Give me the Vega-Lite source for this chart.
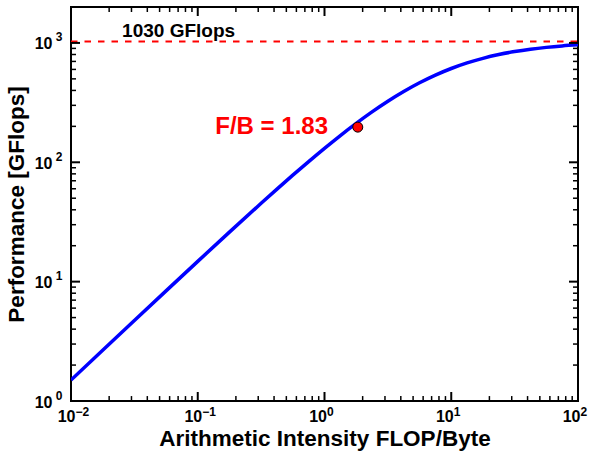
{
  "$schema": "https://vega.github.io/schema/vega-lite/v6.json",
  "width": 507,
  "height": 394,
  "autosize": {"type": "none"},
  "padding": {"left": 71, "top": 7, "right": 13, "bottom": 53},
  "background": "white",
  "config": {
    "view": {"stroke": "black", "strokeWidth": 2},
    "font": "Liberation Sans",
    "axis": {
      "domain": false,
      "grid": false,
      "ticks": false,
      "labelFont": "Liberation Sans",
      "labelFontWeight": "bold",
      "labelColor": "black",
      "titleFont": "Liberation Sans",
      "titleFontWeight": "bold",
      "titleColor": "black",
      "labelOverlap": false,
      "labelFlush": false
    }
  },
  "datasets": {
    "xmajor": [{"v": 0.1}, {"v": 1}, {"v": 10}],
    "xminor": [
      {"v": 0.02}, {"v": 0.03}, {"v": 0.04}, {"v": 0.05}, {"v": 0.06}, {"v": 0.07}, {"v": 0.08}, {"v": 0.09},
      {"v": 0.2}, {"v": 0.3}, {"v": 0.4}, {"v": 0.5}, {"v": 0.6}, {"v": 0.7}, {"v": 0.8}, {"v": 0.9},
      {"v": 2}, {"v": 3}, {"v": 4}, {"v": 5}, {"v": 6}, {"v": 7}, {"v": 8}, {"v": 9},
      {"v": 20}, {"v": 30}, {"v": 40}, {"v": 50}, {"v": 60}, {"v": 70}, {"v": 80}, {"v": 90}
    ],
    "ymajor": [{"v": 10}, {"v": 100}, {"v": 1000}],
    "yminor": [
      {"v": 2}, {"v": 3}, {"v": 4}, {"v": 5}, {"v": 6}, {"v": 7}, {"v": 8}, {"v": 9},
      {"v": 20}, {"v": 30}, {"v": 40}, {"v": 50}, {"v": 60}, {"v": 70}, {"v": 80}, {"v": 90},
      {"v": 200}, {"v": 300}, {"v": 400}, {"v": 500}, {"v": 600}, {"v": 700}, {"v": 800}, {"v": 900}
    ]
  },
  "resolve": {"axis": {"x": "independent", "y": "independent"}},
  "layer": [
    {
      "data": {"values": [
        {"ai": 0.01, "perf": 1.498},
        {"ai": 0.01778, "perf": 2.660},
        {"ai": 0.03162, "perf": 4.721},
        {"ai": 0.05623, "perf": 8.367},
        {"ai": 0.1, "perf": 14.79},
        {"ai": 0.1778, "perf": 26.00},
        {"ai": 0.3162, "perf": 45.34},
        {"ai": 0.4217, "perf": 59.59},
        {"ai": 0.5623, "perf": 77.97},
        {"ai": 0.75, "perf": 101.4},
        {"ai": 1, "perf": 130.9},
        {"ai": 1.334, "perf": 167.6},
        {"ai": 1.778, "perf": 211.9},
        {"ai": 2.371, "perf": 264.4},
        {"ai": 3.162, "perf": 324.8},
        {"ai": 4.217, "perf": 391.9},
        {"ai": 5.623, "perf": 463.7},
        {"ai": 7.499, "perf": 537.7},
        {"ai": 10, "perf": 610.7},
        {"ai": 13.34, "perf": 680.0},
        {"ai": 17.78, "perf": 743.0},
        {"ai": 23.71, "perf": 798.7},
        {"ai": 31.62, "perf": 846.2},
        {"ai": 42.17, "perf": 885.8},
        {"ai": 56.23, "perf": 917.9},
        {"ai": 74.99, "perf": 943.6},
        {"ai": 100, "perf": 963.8}
      ]},
      "mark": {"type": "line", "color": "#0000ff", "strokeWidth": 3.5, "interpolate": "monotone", "clip": true},
      "encoding": {
        "x": {
          "field": "ai", "type": "quantitative",
          "scale": {"type": "log", "domain": [0.01, 100], "nice": false},
          "axis": {
            "orient": "bottom",
            "values": [0.01, 0.1, 1, 10, 100],
            "labelExpr": "'10'",
            "labelFontSize": 16,
            "labelAlign": "right",
            "labelBaseline": "top",
            "labelPadding": 7,
            "labelOffset": {"condition": {"test": "datum.value < 0.5", "value": 4}, "value": 2},
            "title": "Arithmetic Intensity FLOP/Byte",
            "titleFontSize": 22.5,
            "titlePadding": 3
          }
        },
        "y": {
          "field": "perf", "type": "quantitative",
          "scale": {"type": "log", "domain": [1, 2000], "nice": false},
          "axis": {
            "orient": "left",
            "values": [1, 10, 100, 1000],
            "labelExpr": "'10'",
            "labelFontSize": 16,
            "labelAlign": "right",
            "labelBaseline": "middle",
            "labelPadding": 19,
            "labelOffset": 1,
            "title": "Performance [GFlops]",
            "titleFontSize": 22.5,
            "titlePadding": 6
          }
        }
      }
    },
    {
      "data": {"values": [{"x0": 0.01, "x1": 100, "perf": 1030}]},
      "mark": {"type": "rule", "color": "#ff0000", "strokeWidth": 2, "strokeDash": [6.5, 7]},
      "encoding": {
        "x": {"field": "x0", "type": "quantitative", "scale": {"type": "log", "domain": [0.01, 100], "nice": false}, "axis": null},
        "x2": {"field": "x1"},
        "y": {"field": "perf", "type": "quantitative", "scale": {"type": "log", "domain": [1, 2000], "nice": false}, "axis": null}
      }
    },
    {
      "data": {"name": "xmajor"},
      "mark": {"type": "rule", "color": "black", "strokeWidth": 2},
      "encoding": {
        "x": {"field": "v", "type": "quantitative", "scale": {"type": "log", "domain": [0.01, 100], "nice": false}, "axis": null},
        "y": {"datum": 1, "type": "quantitative", "scale": {"type": "log", "domain": [1, 2000], "nice": false}, "axis": null},
        "y2": {"datum": 1.19}
      }
    },
    {
      "data": {"name": "xminor"},
      "mark": {"type": "rule", "color": "black", "strokeWidth": 1.5},
      "encoding": {
        "x": {"field": "v", "type": "quantitative", "scale": {"type": "log", "domain": [0.01, 100], "nice": false}, "axis": null},
        "y": {"datum": 1, "type": "quantitative", "scale": {"type": "log", "domain": [1, 2000], "nice": false}, "axis": null},
        "y2": {"datum": 1.1}
      }
    },
    {
      "data": {"name": "xmajor"},
      "mark": {"type": "rule", "color": "black", "strokeWidth": 2},
      "encoding": {
        "x": {"field": "v", "type": "quantitative", "scale": {"type": "log", "domain": [0.01, 100], "nice": false}, "axis": null},
        "y": {"datum": 2000, "type": "quantitative", "scale": {"type": "log", "domain": [1, 2000], "nice": false}, "axis": null},
        "y2": {"datum": 1681}
      }
    },
    {
      "data": {"name": "xminor"},
      "mark": {"type": "rule", "color": "black", "strokeWidth": 1.5},
      "encoding": {
        "x": {"field": "v", "type": "quantitative", "scale": {"type": "log", "domain": [0.01, 100], "nice": false}, "axis": null},
        "y": {"datum": 2000, "type": "quantitative", "scale": {"type": "log", "domain": [1, 2000], "nice": false}, "axis": null},
        "y2": {"datum": 1817}
      }
    },
    {
      "data": {"name": "ymajor"},
      "mark": {"type": "rule", "color": "black", "strokeWidth": 2},
      "encoding": {
        "y": {"field": "v", "type": "quantitative", "scale": {"type": "log", "domain": [1, 2000], "nice": false}, "axis": null},
        "x": {"datum": 0.01, "type": "quantitative", "scale": {"type": "log", "domain": [0.01, 100], "nice": false}, "axis": null},
        "x2": {"datum": 0.01178}
      }
    },
    {
      "data": {"name": "yminor"},
      "mark": {"type": "rule", "color": "black", "strokeWidth": 1.5},
      "encoding": {
        "y": {"field": "v", "type": "quantitative", "scale": {"type": "log", "domain": [1, 2000], "nice": false}, "axis": null},
        "x": {"datum": 0.01, "type": "quantitative", "scale": {"type": "log", "domain": [0.01, 100], "nice": false}, "axis": null},
        "x2": {"datum": 0.01095}
      }
    },
    {
      "data": {"name": "ymajor"},
      "mark": {"type": "rule", "color": "black", "strokeWidth": 2},
      "encoding": {
        "y": {"field": "v", "type": "quantitative", "scale": {"type": "log", "domain": [1, 2000], "nice": false}, "axis": null},
        "x": {"datum": 100, "type": "quantitative", "scale": {"type": "log", "domain": [0.01, 100], "nice": false}, "axis": null},
        "x2": {"datum": 84.9}
      }
    },
    {
      "data": {"name": "yminor"},
      "mark": {"type": "rule", "color": "black", "strokeWidth": 1.5},
      "encoding": {
        "y": {"field": "v", "type": "quantitative", "scale": {"type": "log", "domain": [1, 2000], "nice": false}, "axis": null},
        "x": {"datum": 100, "type": "quantitative", "scale": {"type": "log", "domain": [0.01, 100], "nice": false}, "axis": null},
        "x2": {"datum": 91.3}
      }
    },
    {
      "data": {"values": [{"ai": 0.0253, "perf": 1270, "label": "1030 GFlops"}]},
      "mark": {"type": "text", "align": "left", "baseline": "middle", "fontSize": 19, "fontWeight": "bold", "color": "black", "font": "Liberation Sans"},
      "encoding": {
        "x": {
          "field": "ai", "type": "quantitative",
          "scale": {"type": "log", "domain": [0.01, 100], "nice": false},
          "axis": {
            "orient": "bottom",
            "values": [0.01, 0.1, 1, 10, 100],
            "labelExpr": "format(round(log(datum.value)/LN10), 'd')",
            "labelFontSize": 12,
            "labelAlign": "left",
            "labelBaseline": "top",
            "labelPadding": 5,
            "labelOffset": {"condition": {"test": "datum.value < 0.5", "value": 4}, "value": 2},
            "title": null
          }
        },
        "y": {
          "field": "perf", "type": "quantitative",
          "scale": {"type": "log", "domain": [1, 2000], "nice": false},
          "axis": {
            "orient": "left",
            "values": [1, 10, 100, 1000],
            "labelExpr": "format(round(log(datum.value)/LN10), 'd')",
            "labelFontSize": 12,
            "labelAlign": "right",
            "labelBaseline": "middle",
            "labelPadding": 9,
            "labelOffset": -6,
            "title": null
          }
        },
        "text": {"field": "label"}
      }
    },
    {
      "data": {"values": [{"ai": 1.83, "perf": 197}]},
      "mark": {"type": "point", "shape": "circle", "filled": true, "size": 100, "fill": "#ff0000", "stroke": "black", "strokeWidth": 1, "opacity": 1},
      "encoding": {
        "x": {"field": "ai", "type": "quantitative", "scale": {"type": "log", "domain": [0.01, 100], "nice": false}, "axis": null},
        "y": {"field": "perf", "type": "quantitative", "scale": {"type": "log", "domain": [1, 2000], "nice": false}, "axis": null}
      }
    },
    {
      "data": {"values": [{"ai": 1.066, "perf": 197, "label": "F/B = 1.83"}]},
      "mark": {"type": "text", "align": "right", "baseline": "middle", "fontSize": 24, "fontWeight": "bold", "color": "#ff0000", "font": "Liberation Sans"},
      "encoding": {
        "x": {"field": "ai", "type": "quantitative", "scale": {"type": "log", "domain": [0.01, 100], "nice": false}, "axis": null},
        "y": {"field": "perf", "type": "quantitative", "scale": {"type": "log", "domain": [1, 2000], "nice": false}, "axis": null},
        "text": {"field": "label"}
      }
    }
  ]
}
